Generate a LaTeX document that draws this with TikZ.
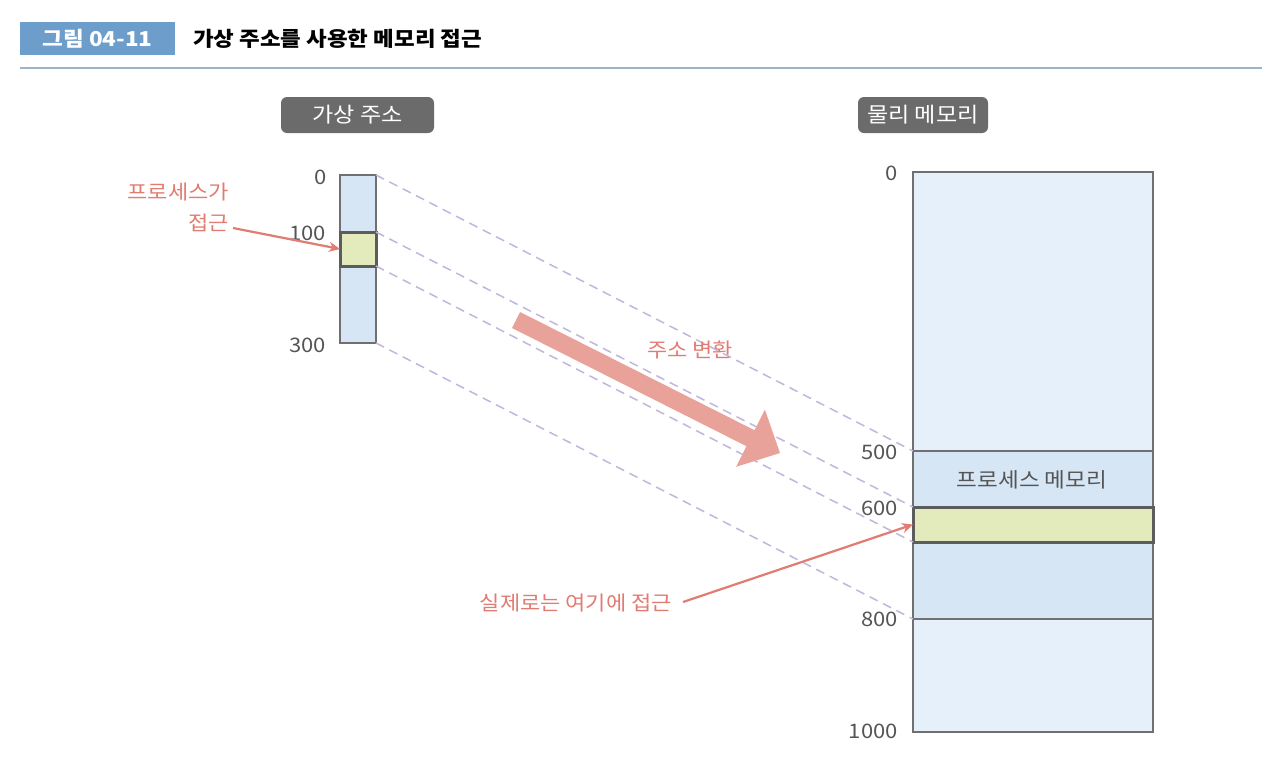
\documentclass[tikz,border=0pt]{standalone}
\usepackage{fontspec}
\setmainfont{Noto Sans CJK KR}[FakeStretch=1.1]
\usetikzlibrary{arrows.meta}
\definecolor{titleblue}{HTML}{6C9DCB}
\definecolor{ruleblue}{HTML}{9DB4C8}
\definecolor{tagbg}{HTML}{6B6B6B}
\definecolor{framec}{HTML}{707070}
\definecolor{framedark}{HTML}{5C5C5C}
\definecolor{lightblue}{HTML}{D6E6F5}
\definecolor{paleblue}{HTML}{E6F0FA}
\definecolor{hl}{HTML}{E3EABB}
\definecolor{salmon}{HTML}{E07C72}
\definecolor{bigarrow}{HTML}{E8A29A}
\definecolor{dashc}{HTML}{C3B6DD}
\definecolor{numc}{HTML}{555555}
\tikzset{
  tag/.style={fill=tagbg, rounded corners=6, text=white, minimum height=36, inner sep=0, font=\fontsize{21}{24}\selectfont},
  memcol/.style={draw=framec, line width=1.8, inner sep=0, outer sep=0},
  hlbox/.style={draw=framedark, fill=hl, line width=3, inner sep=0, outer sep=0},
  num/.style={anchor=east, text=numc, inner sep=0, font=\fontsize{20}{22}\selectfont},
  note/.style={text=salmon, inner sep=0, font=\fontsize{20}{31}\selectfont},
  pointer/.style={draw=salmon, line width=2.2, -{Stealth[length=11,width=10]}},
  maplink/.style={draw=dashc, line width=1.5, dash pattern=on 9 off 6}
}
\begin{document}
\begin{tikzpicture}[x=1pt,y=-1pt]
\useasboundingbox (0,0) rectangle (1274,756);
\fill[white] (0,0) rectangle (1274,756);
% header
\node[fill=titleblue, minimum width=155, minimum height=33, inner sep=0, text=white, font=\bfseries\fontsize{20.5}{22}\selectfont] (fig) at (97.5,38.5) {그림 04-11};
\node[anchor=west, inner sep=0, font=\bfseries\fontsize{20.4}{22}\selectfont] (title) at (193,38.5) {가상 주소를 사용한 메모리 접근};
\coordinate (rl) at (20,68);
\coordinate (rr) at (1262,68);
\draw[ruleblue, line width=1.2] (rl) -- (rr);
% tags
\node[tag, minimum width=153] (vtag) at (357.5,115) {가상 주소};
\node[tag, minimum width=130] (ptag) at (923,115) {물리 메모리};
% virtual column
\node[memcol, fill=lightblue, minimum width=36, minimum height=168] (vcol) at (358,259) {};
\node[hlbox, minimum width=36, minimum height=34] (vhl) at (358,249) {};
% physical column
\node[memcol, fill=paleblue, minimum width=240, minimum height=560] (pcol) at (1033,452) {};
\node[memcol, fill=lightblue, minimum width=240, minimum height=168] (preg) at (1033,535) {};
\node[hlbox, minimum width=240, minimum height=35] (phl) at (1033,524.5) {};
\node[text=numc, inner sep=0, font=\fontsize{20.5}{22}\selectfont] (pmlab) at (1032,480) {프로세스 메모리};
% dashed mapping lines
\draw[maplink] (vcol.north east) -- (preg.north west);
\draw[maplink] (vhl.north east) -- (phl.north west);
\draw[maplink] (vhl.south east) -- (phl.south west);
\draw[maplink] (vcol.south east) -- (preg.south west);
% numbers
\node[num] (v0) at (327,177) {0};
\node[num] (v100) at (326,233) {100};
\node[num] (v300) at (326,345) {300};
\node[num] (p0) at (898,173) {0};
\node[num] (p500) at (898,452) {500};
\node[num] (p600) at (898,508) {600};
\node[num] (p800) at (898,619) {800};
\node[num] (p1000) at (898,731) {1000};
% notes
\node[note, anchor=east, align=right] (vnote) at (229,207) {프로세스가\\접근};
\coordinate (vnoteend) at (233,228);
\draw[pointer] (vnoteend) -- (vhl.west);
\node[note, anchor=east] (pnote) at (672,603) {실제로는 여기에 접근};
\coordinate (pnoteend) at (683,602);
\draw[pointer] (pnoteend) -- (phl.west);
\node[note] (xlate) at (690,350) {주소 변환};
% big arrow
\fill[bigarrow] (512,328) -- (520,312) -- (754.5,430.2) -- (764.9,409.6) -- (780,453) -- (736.1,466.8) -- (746.5,446.2) -- cycle;
\end{tikzpicture}
\end{document}
